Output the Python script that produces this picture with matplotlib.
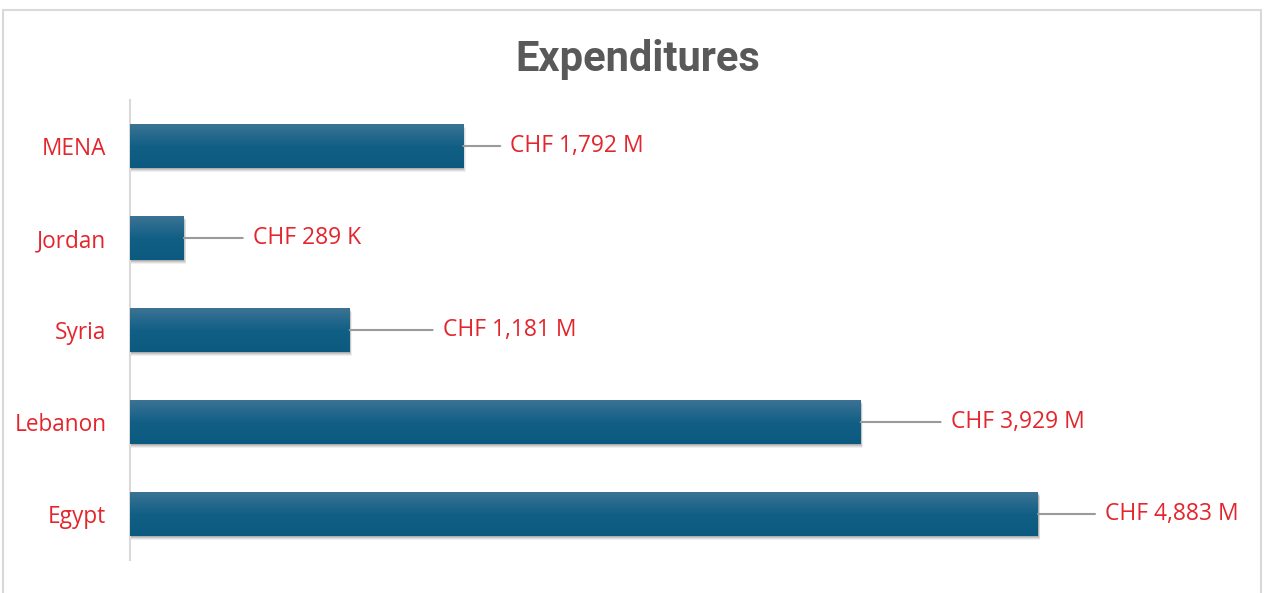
import matplotlib
matplotlib.use("Agg")
import matplotlib.pyplot as plt
import numpy as np
from matplotlib.patches import Rectangle
from matplotlib.colors import LinearSegmentedColormap

categories = ["Egypt", "Lebanon", "Syria", "Jordan", "MENA"]
values = [4883, 3929, 1181, 289, 1792]
labels = ["CHF 4,883 M", "CHF 3,929 M", "CHF 1,181 M", "CHF 289 K", "CHF 1,792 M"]
title = "Expenditures"

# layout (style, not data): leader line length in pixels per bar
leader_px = [57, 80, 83, 59, 37]

W, H = 1268, 593
fig = plt.figure(figsize=(W / 100, H / 100), dpi=100)
fig.patch.set_facecolor("white")

# outer frame
frame = Rectangle((3 / W, -0.05), (1261 - 3) / W, (593 - 10) / H + 0.05, transform=fig.transFigure,
                  fill=False, edgecolor="#d9d9d9", linewidth=1.5)
fig.add_artist(frame)

px_per_unit = (1038 - 130) / 4883
xmax = 6000
ax_left = 130 / W
ax_w = xmax * px_per_unit / W
ax_top = 100
ax_bot = 560
ax = fig.add_axes([ax_left, 1 - ax_bot / H, ax_w, (ax_bot - ax_top) / H])
ax.set_xlim(0, xmax)
ax.set_ylim(-0.5, len(categories) - 0.5)

bar_h = 0.47
cmap = LinearSegmentedColormap.from_list("g", ["#0c5a80", "#125f86", "#3b7394"])
grad = np.linspace(0, 1, 64).reshape(-1, 1)
ypos = np.arange(len(categories))
unit_per_px_y = len(categories) / (ax_bot - ax_top)
unit_per_px_x = 1 / px_per_unit
for y, v in zip(ypos, values):
    # shadow
    for k, a in [(4, 0.06), (3, 0.08), (2, 0.10), (1, 0.12)]:
        ax.add_patch(Rectangle((0, y - bar_h / 2 - k * unit_per_px_y), v + k * 0.6 * unit_per_px_x, bar_h,
                               facecolor="#000000", alpha=a, edgecolor="none", zorder=1))
    bars = ax.barh([y], [v], height=bar_h, color="#11608a", zorder=2)
    im = ax.imshow(grad, cmap=cmap, aspect="auto", origin="lower",
                   extent=(0, v, y - bar_h / 2, y + bar_h / 2), zorder=3)
    im.set_clip_path(bars.patches[0])

for y, v, lab, lp in zip(ypos, values, labels, leader_px):
    ax.annotate("", xy=(v, y), xytext=(v + lp * unit_per_px_x, y),
                arrowprops=dict(arrowstyle="-", color="#9a9a9a", lw=1.5, shrinkA=0, shrinkB=0), zorder=4)
    ax.text(v + (lp + 10) * unit_per_px_x, y, lab, va="center", ha="left",
            fontsize=16.5, color="#e3262d", family=["Open Sans", "DejaVu Sans"])

ax.set_xticks([])
ax.set_yticks(ypos)
ax.set_yticklabels(categories, fontsize=16.3, color="#e3262d", family=["Open Sans", "DejaVu Sans"])
ax.tick_params(axis="y", length=0, pad=17)
for s in ["top", "right", "bottom"]:
    ax.spines[s].set_visible(False)
ax.spines["left"].set_color("#d9d9d9")
ax.spines["left"].set_linewidth(1.5)
ax.set_facecolor("none")

fig.text(638 / W, 1 - 60 / H, title, ha="center", va="center", fontsize=30, fontweight="bold",
         color="#595959", family=["Liberation Sans Narrow", "Roboto", "DejaVu Sans"])

fig.savefig("out.png", dpi=100, facecolor="white")
